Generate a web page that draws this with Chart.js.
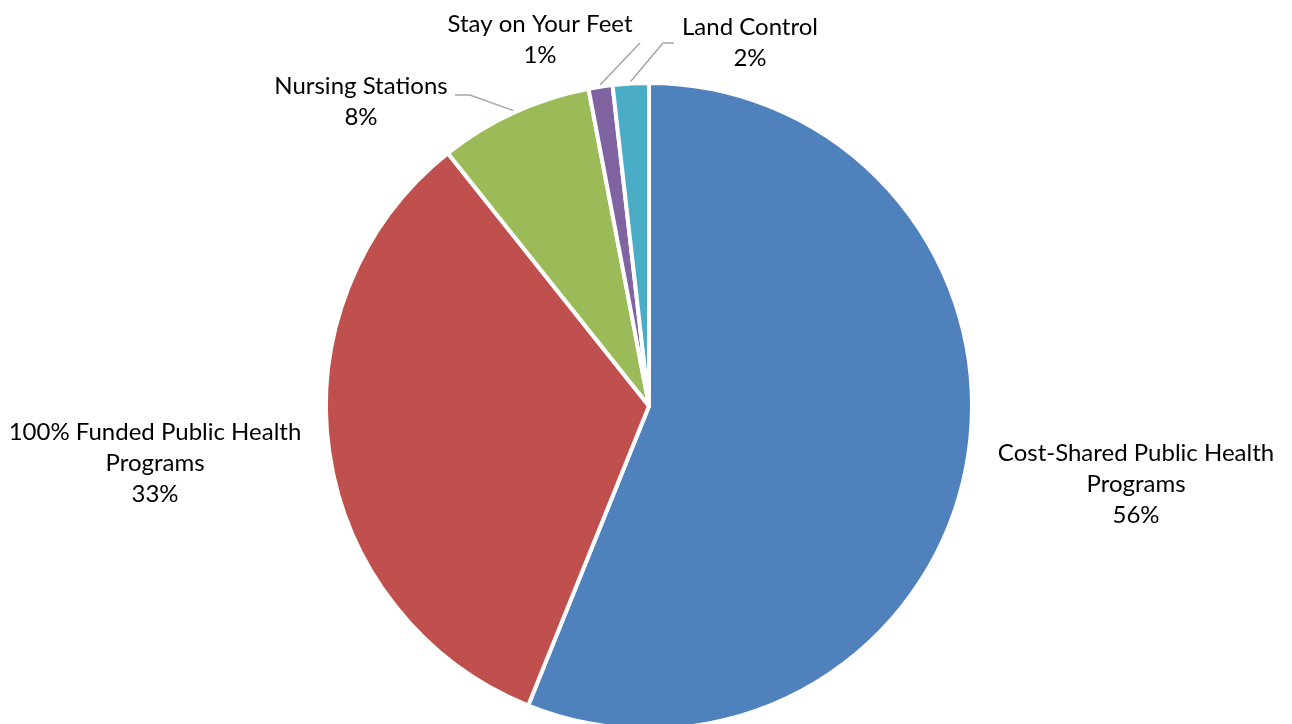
<!DOCTYPE html>
<html>
<head>
<meta charset="utf-8">
<script src="https://cdn.jsdelivr.net/npm/chart.js@4"></script>
<style>
    html, body { margin: 0; padding: 0; background: #fff; overflow: hidden; }
    #wrap { width: 1292px; height: 724px; overflow: hidden; }
</style>
</head>
<body>
<div id="wrap"><canvas id="pie" width="1292" height="744"></canvas></div>
<script>
// chart data
const categories = [
    ["Cost-Shared Public Health", "Programs"],
    ["100% Funded Public Health", "Programs"],
    ["Nursing Stations"],
    ["Stay on Your Feet"],
    ["Land Control"],
];
const shares = [56.1, 33.2, 7.7, 1.2, 1.8];
const pctLabels = ["56%", "33%", "8%", "1%", "2%"];
const colors = ["#4F81BD", "#C0504D", "#9BBB59", "#8064A2", "#4BACC6"];

// label placement, relative to pie centre (cx, cy) in px
const labelPos = [
    { dx: 487, dy: 47, leader: false },
    { dx: -494, dy: 26, leader: false },
    { dx: -288, dy: -320, leader: [[-179, -311], [-194, -311]] },
    { dx: -109, dy: -382, leader: [[-9, -363]] },
    { dx: 101, dy: -379, leader: [[14, -363], [25, -363]] },
];

const outsideLabels = {
    id: "outsideLabels",
    afterDatasetsDraw(chart) {
        const ctx = chart.ctx;
        const arcs = chart.getDatasetMeta(0).data;
        ctx.save();
        arcs.forEach((arc, i) => {
            const { x, y, startAngle, endAngle, outerRadius } = arc.getProps(
                ["x", "y", "startAngle", "endAngle", "outerRadius"], true);
            const pos = labelPos[i];
            if (pos.leader) {
                const mid = (startAngle + endAngle) / 2;
                ctx.beginPath();
                ctx.strokeStyle = "#A6A6A6";
                ctx.lineWidth = 1.5;
                ctx.moveTo(x + Math.cos(mid) * (outerRadius + 2), y + Math.sin(mid) * (outerRadius + 2));
                pos.leader.forEach(p => ctx.lineTo(x + p[0], y + p[1]));
                ctx.stroke();
            }
            const lines = categories[i].concat([pctLabels[i]]);
            ctx.fillStyle = "#000";
            ctx.font = "24px Lato, 'Open Sans', sans-serif";
            ctx.textAlign = "center";
            ctx.textBaseline = "middle";
            lines.forEach((t, k) => {
                ctx.fillText(t, x + pos.dx, y + pos.dy + k * 31);
            });
        });
        ctx.restore();
    }
};

new Chart(document.getElementById("pie").getContext("2d"), {
    type: "pie",
    data: {
        labels: categories.map(c => c.join(" ")),
        datasets: [{
            data: shares,
            backgroundColor: colors,
            borderColor: "#fff",
            borderWidth: 4,
        }]
    },
    options: {
        responsive: false,
        animation: false,
        layout: { padding: { top: 81, bottom: 13, left: 324, right: 318 } },
        plugins: {
            legend: { display: false },
            tooltip: { enabled: false },
        }
    },
    plugins: [outsideLabels]
});
</script>
</body>
</html>
